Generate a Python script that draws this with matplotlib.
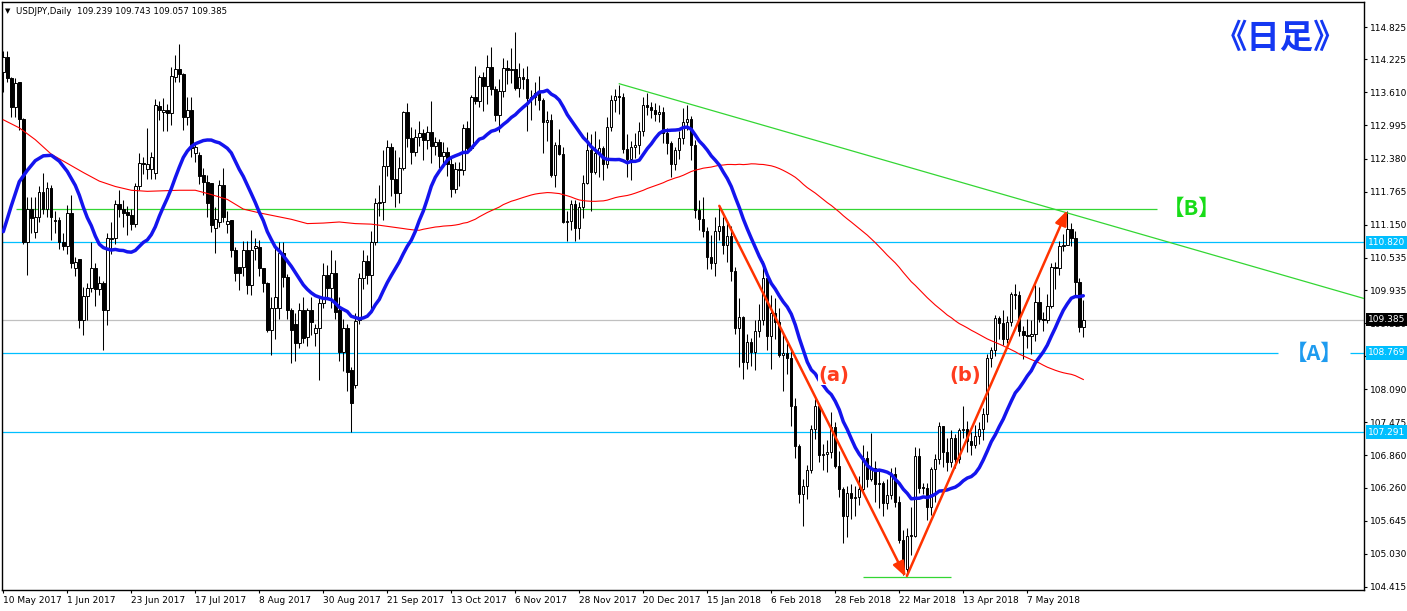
import numpy as np
import pandas as pd
import matplotlib
matplotlib.use("Agg")
import matplotlib.pyplot as plt
from matplotlib.transforms import blended_transform_factory

# ---------------- data ----------------
OPEN = [113.99,114.27,113.87,113.33,113.80,113.11,110.83,111.45,111.02,111.30,
        111.76,111.45,111.83,111.24,111.24,110.83,110.76,111.36,110.34,110.52,
        109.38,109.82,109.97,110.34,109.95,110.06,109.56,110.88,110.90,111.54,
        111.45,111.39,111.33,111.17,111.86,112.30,112.18,112.18,112.11,113.36,
        113.25,113.28,113.22,113.90,114.04,113.95,113.16,113.28,112.48,112.45,
        112.07,111.95,111.92,111.08,111.20,111.89,111.16,111.24,110.68,110.37,
        110.36,110.68,110.03,110.71,110.74,110.34,110.06,109.19,109.60,109.61,
        110.62,110.18,109.56,109.31,108.95,109.56,109.07,109.56,109.13,109.22,
        109.69,110.21,109.97,110.25,109.56,108.78,109.22,108.45,108.17,109.37,
        110.15,110.47,110.22,110.83,111.55,111.58,112.25,112.59,111.99,111.73,
        112.21,113.25,112.76,112.51,112.78,112.86,112.72,112.87,112.61,112.68,
        112.42,112.51,112.28,111.82,112.18,112.16,112.95,112.57,113.52,113.45,
        113.89,113.72,114.08,113.67,113.19,113.64,114.06,114.02,114.05,113.70,
        113.90,113.85,113.51,113.52,113.60,113.46,113.05,113.10,112.07,112.64,
        112.46,111.20,111.21,111.53,111.08,111.48,111.93,112.53,112.13,112.48,
        112.58,112.27,112.97,113.46,113.55,113.52,112.56,112.37,112.59,112.64,
        112.90,113.38,113.34,113.28,113.20,113.24,112.86,112.67,112.27,112.53,
        112.76,113.05,113.11,112.63,111.43,111.26,111.03,110.55,110.44,111.03,
        111.12,110.77,110.94,110.28,109.22,109.43,108.60,108.96,108.79,109.17,
        109.38,110.16,109.08,109.50,109.35,108.73,108.77,108.68,107.78,107.04,
        106.14,106.30,106.58,107.35,107.77,106.87,106.88,106.92,107.38,106.67,
        106.23,105.74,106.17,106.06,106.08,106.23,106.82,106.42,106.63,106.32,
        106.34,105.97,106.12,106.51,106.00,105.29,104.74,105.37,105.36,106.85,
        106.26,106.25,105.91,106.61,106.79,107.40,106.93,106.74,107.18,106.79,
        107.33,107.36,107.13,107.06,107.23,107.36,107.63,108.68,108.82,109.42,
        109.33,109.03,109.34,109.86,109.85,109.18,109.10,109.08,109.12,109.71,
        109.40,109.37,109.64,110.36,110.34,110.76,110.77,111.07,110.91,110.08,
        109.239]
HIGH = [114.37,114.38,113.90,113.87,113.80,113.13,111.67,111.67,111.67,111.86,
        112.12,111.95,111.89,111.40,111.30,110.99,111.52,111.70,110.55,110.52,
        110.00,110.06,110.82,110.43,110.20,110.10,110.99,111.20,111.61,111.79,
        111.60,111.50,111.45,111.93,112.48,112.41,112.94,112.50,113.48,113.45,
        113.50,113.40,114.09,114.30,114.51,113.97,113.53,113.53,112.66,112.50,
        112.20,112.07,111.92,111.48,111.98,112.20,111.40,111.24,110.74,110.37,
        110.84,110.84,111.05,110.90,110.87,110.35,110.08,109.80,110.74,110.82,
        110.82,110.24,109.60,109.50,109.70,109.80,109.60,109.80,109.30,109.80,
        110.43,110.40,110.68,110.50,109.80,109.40,109.30,108.50,109.50,110.26,
        110.68,110.58,111.03,111.65,111.88,112.53,112.72,112.66,112.53,112.40,
        113.26,113.41,112.96,112.93,113.07,112.93,112.99,113.44,112.78,112.75,
        112.69,112.60,112.39,112.31,112.32,113.02,113.08,113.57,114.10,113.93,
        113.98,114.30,114.45,113.72,113.85,114.25,114.22,114.44,114.73,114.15,
        114.06,114.10,113.66,113.80,113.92,113.50,113.27,113.20,112.68,112.92,
        112.60,111.40,111.60,111.60,111.58,112.07,112.88,112.84,112.90,112.75,
        112.62,113.16,113.56,113.67,113.75,113.60,112.84,112.70,112.86,113.06,
        113.52,113.60,113.43,113.41,113.38,113.34,112.94,112.70,112.60,112.89,
        113.31,113.38,113.17,112.72,111.61,111.66,111.10,110.95,111.30,111.48,
        111.30,111.19,111.12,110.37,109.78,109.45,109.11,109.04,109.37,109.68,
        110.48,110.27,109.84,109.78,109.60,109.15,108.95,108.80,107.93,107.07,
        106.43,106.68,107.43,107.90,107.82,107.08,107.15,107.67,107.48,106.94,
        106.27,106.30,106.33,106.30,106.48,107.05,106.95,107.28,106.76,106.60,
        106.39,106.43,106.63,106.65,106.10,105.48,105.52,105.90,107.01,107.00,
        106.35,106.34,106.65,106.89,107.49,107.40,107.19,107.34,107.26,107.37,
        107.78,107.50,107.30,107.43,107.49,107.75,108.75,108.88,109.47,109.46,
        109.57,109.45,109.89,110.04,109.92,109.26,109.40,109.38,110.02,110.00,
        109.53,109.86,110.44,110.45,110.85,110.98,111.40,111.18,111.04,110.16,
        109.743]
LOW = [113.62,113.81,113.16,113.16,112.91,110.79,110.21,110.99,110.90,111.20,
       111.35,111.30,110.87,111.00,110.70,110.68,110.60,110.34,110.20,109.22,
       109.10,109.38,109.90,109.63,109.85,108.82,109.28,110.60,110.80,111.30,
       111.10,110.96,111.05,111.11,111.80,112.10,112.00,112.00,112.00,113.10,
       112.90,112.90,113.00,113.80,113.80,112.91,113.00,112.40,112.32,111.90,
       111.70,111.30,111.02,110.62,111.10,111.20,111.00,110.54,110.10,109.94,
       110.20,109.87,109.84,110.50,110.20,109.90,109.15,108.72,109.02,109.40,
       110.00,109.40,108.58,108.62,108.86,108.95,108.90,109.10,108.90,108.26,
       109.60,109.80,109.60,109.40,108.61,108.43,108.05,107.30,108.11,109.30,
       109.95,110.04,109.55,110.78,111.31,111.23,112.05,111.68,111.47,111.55,
       112.16,112.59,112.27,112.43,112.61,112.36,112.56,112.30,112.44,112.20,
       112.23,112.05,111.67,111.74,111.86,112.08,112.54,112.53,113.40,113.33,
       113.26,113.40,113.57,113.07,112.87,113.53,113.76,113.78,113.66,113.53,
       113.67,112.90,113.09,113.38,113.28,112.48,112.70,112.03,111.85,112.44,
       111.19,110.84,111.05,110.84,110.89,111.27,111.90,111.40,112.10,112.04,
       111.98,112.20,112.90,113.25,113.20,112.49,112.04,111.98,112.39,112.46,
       112.80,113.19,113.13,113.08,113.06,112.66,112.47,112.04,112.17,112.37,
       112.65,112.91,112.35,111.27,111.06,110.92,110.33,110.33,110.19,110.87,
       110.61,110.45,110.11,109.11,108.50,108.28,108.46,108.53,108.45,109.07,
       109.28,108.82,108.46,109.02,108.69,108.05,108.37,107.40,106.82,105.98,
       105.55,106.05,106.54,107.17,106.73,106.58,106.55,106.82,106.62,106.09,
       105.24,105.35,105.68,105.73,105.94,106.15,106.28,106.39,106.00,105.89,
       105.74,105.87,106.05,105.90,105.24,104.64,104.63,105.01,105.35,106.16,
       106.15,105.66,105.75,105.99,106.71,106.64,106.57,106.65,106.62,106.72,
       107.19,106.93,106.86,107.00,107.08,107.15,107.48,108.50,108.71,109.03,
       108.92,108.95,109.26,109.59,109.08,108.65,108.85,108.74,108.99,109.34,
       109.18,109.32,109.60,109.96,110.22,110.66,110.77,110.75,109.84,109.16,
       109.057]
CLOSE = [114.27,113.87,113.33,113.78,113.11,110.83,111.45,111.27,111.30,111.76,
         111.45,111.83,111.30,111.21,110.83,110.76,111.36,110.43,110.45,109.38,
         109.82,109.97,110.34,109.95,110.06,109.56,110.90,110.90,111.54,111.44,
         111.37,111.33,111.17,111.86,112.30,112.27,112.28,112.40,113.37,113.28,
         113.28,113.22,113.91,114.04,113.95,113.16,113.28,112.57,112.60,112.05,
         111.95,111.55,111.14,111.25,111.89,111.30,111.22,110.68,110.25,110.25,
         110.68,110.03,110.68,110.75,110.34,110.06,109.19,109.60,109.81,110.62,
         110.18,109.56,109.19,108.95,109.56,109.04,109.56,109.35,109.22,109.69,
         110.21,109.97,110.25,109.53,108.78,109.22,108.42,107.83,109.36,110.15,
         110.47,110.22,110.83,111.55,111.58,112.25,112.59,111.99,111.73,112.21,
         113.25,112.76,112.51,112.78,112.86,112.72,112.87,112.61,112.68,112.42,
         112.51,112.28,111.82,112.18,112.16,112.95,112.57,113.52,113.45,113.89,
         113.72,114.08,113.67,113.19,113.64,114.06,114.02,114.05,113.70,113.90,
         113.85,113.51,113.52,113.60,113.46,113.05,113.10,112.07,112.64,112.46,
         111.20,111.21,111.53,111.08,111.48,111.93,112.53,112.13,112.48,112.58,
         112.27,112.97,113.46,113.55,113.52,112.56,112.37,112.59,112.64,112.90,
         113.38,113.34,113.28,113.20,113.24,112.86,112.67,112.27,112.53,112.76,
         113.05,113.11,112.63,111.43,111.26,111.03,110.55,110.44,111.03,111.12,
         110.77,110.94,110.28,109.22,109.43,108.60,108.96,108.79,109.17,109.38,
         110.16,109.08,109.50,109.35,108.73,108.77,108.68,107.78,107.04,106.14,
         106.30,106.58,107.35,107.77,106.87,106.88,106.92,107.38,106.67,106.23,
         105.74,106.17,106.06,106.08,106.23,106.82,106.42,106.63,106.32,106.34,
         105.97,106.12,106.51,106.00,105.29,104.74,105.37,105.36,106.85,106.26,
         106.25,105.91,106.61,106.79,107.40,106.93,106.74,107.18,106.79,107.33,
         107.36,107.13,107.06,107.23,107.36,107.63,108.68,108.82,109.42,109.33,
         109.03,109.34,109.86,109.85,109.18,109.10,109.08,109.12,109.71,109.40,
         109.37,109.64,110.36,110.34,110.76,110.77,111.07,110.91,110.08,109.25,
         109.385]

# moving averages: SMA(20) blue and SMA(100) red of the closes; their first bars
# (which need history before the chart) are read off the picture
BLUE_PERIOD = 20
RED_PERIOD = 100
BLUE_HEAD_BARS = [0, 2, 4, 6, 8, 10, 12, 14, 16, 18]
BLUE_HEAD = [111.02, 111.50, 111.95, 112.16, 112.34, 112.43, 112.44, 112.33, 112.14, 111.88]
RED_HEAD_BARS = list(range(0, 97, 4))
RED_HEAD = [113.10, 112.95, 112.73, 112.46, 112.29, 112.12, 111.96, 111.86, 111.79, 111.77,
            111.78, 111.79, 111.79, 111.71, 111.62, 111.44, 111.37, 111.31, 111.25, 111.17,
            111.18, 111.20, 111.17, 111.16, 111.12]

X_LABELS = ['10 May 2017', '1 Jun 2017', '23 Jun 2017', '17 Jul 2017', '8 Aug 2017',
            '30 Aug 2017', '21 Sep 2017', '13 Oct 2017', '6 Nov 2017', '28 Nov 2017',
            '20 Dec 2017', '15 Jan 2018', '6 Feb 2018', '28 Feb 2018', '22 Mar 2018',
            '13 Apr 2018', '7 May 2018']
Y_TICKS = [114.825, 114.225, 113.610, 112.995, 112.380, 111.765, 111.150, 110.535,
           109.935, 109.320, 108.705, 108.090, 107.475, 106.860, 106.260, 105.645,
           105.030, 104.415]

LEVEL_B = 111.44          # green horizontal
LEVEL_1 = 110.820         # cyan
LEVEL_A = 108.769         # cyan (A)
LEVEL_2 = 107.291         # cyan
LAST_PRICE = 109.385      # grey
LOW_MARK = 104.594        # short green at bottom
TREND_X = [154, 341]
TREND_Y = [113.77, 109.76]
ARROW_A = [(179, 111.50), (225.6, 104.60)]
ARROW_B = [(225.9, 104.62), (266.0, 111.42)]

# ---------------- figure ----------------
W, H = 1407, 611
fig = plt.figure(figsize=(W / 100, H / 100), dpi=100)
fig.patch.set_facecolor('white')
L_PX, R_PX, T_PX, B_PX = 2, 1364, 1.5, 590
ax = fig.add_axes([L_PX / W, (H - B_PX) / H, (R_PX - L_PX) / W, (B_PX - T_PX) / H])
ax.set_xlim((L_PX - 3.3) / 4, (R_PX - 3.3) / 4)
ax.set_ylim(114.825 - (B_PX - 27) / 53.79, 114.825 - (T_PX - 27) / 53.79)
for s in ax.spines.values():
    s.set_color('black')
    s.set_linewidth(1.0)

CYAN = '#00BFFF'
GREEN = '#33D633'

# horizontal levels
ax.axhline(LEVEL_1, color=CYAN, lw=0.9, zorder=1.5)
ax.axhline(LEVEL_2, color=CYAN, lw=0.9, zorder=1.5)
ax.axhline(LAST_PRICE, color='#C0C0C0', lw=0.9, zorder=1.4)
ax.hlines(LEVEL_A, ax.get_xlim()[0], 318.7, color=CYAN, lw=0.9, zorder=1.5)
ax.hlines(LEVEL_A, 336.7, ax.get_xlim()[1], color=CYAN, lw=0.9, zorder=1.5)
ax.hlines(LEVEL_B, 3.2, 288.4, color=GREEN, lw=0.9, zorder=1.5)
ax.hlines(LOW_MARK, 215.0, 236.9, color=GREEN, lw=0.9, zorder=1.5)

# candles
o, h, l, c = (np.array(v) for v in (OPEN, HIGH, LOW, CLOSE))
x = np.arange(len(c))
ax.vlines(x, l, h, color='black', lw=0.75, zorder=2)
up = c >= o
bottom = np.minimum(o, c)
height = np.maximum(np.abs(c - o), 0.015)
ax.bar(x[up], height[up], bottom=bottom[up], width=0.6, facecolor='white',
       edgecolor='black', linewidth=0.7, zorder=2.2)
ax.bar(x[~up], height[~up], bottom=bottom[~up], width=0.6, facecolor='black',
       edgecolor='black', linewidth=0.7, zorder=2.2)

# moving averages
close_s = pd.Series(CLOSE)
blue_calc = close_s.rolling(BLUE_PERIOD).mean()
red_calc = close_s.rolling(RED_PERIOD).mean()
bx = BLUE_HEAD_BARS + list(range(BLUE_PERIOD - 1, len(CLOSE)))
by = BLUE_HEAD + list(blue_calc.iloc[BLUE_PERIOD - 1:])
rx = RED_HEAD_BARS + list(range(RED_PERIOD - 1, len(CLOSE)))
ry = RED_HEAD + list(red_calc.iloc[RED_PERIOD - 1:])
ax.plot(rx, ry, color='#FF0000', lw=0.8, zorder=3)
ax.plot(bx, by, color='#1414EE', lw=2.5, zorder=3.1,
        solid_joinstyle='round', solid_capstyle='round')

# trend line
ax.plot(TREND_X, TREND_Y, color=GREEN, lw=0.9, zorder=3.2)

# arrows
RED = '#FF3300'
for (p0, p1) in (ARROW_A, ARROW_B):
    ax.annotate('', xy=p1, xytext=p0, zorder=4,
                arrowprops=dict(arrowstyle='-|>,head_length=0.9,head_width=0.35',
                                color=RED, lw=1.8, shrinkA=0, shrinkB=0))

# labels on chart
ax.text(207.7, 108.355, '(a)', color='#FF3C1E', fontsize=14, fontweight='bold',
        ha='center', va='center', zorder=5,
        bbox=dict(boxstyle='square,pad=0.05', fc='white', ec='none'))
ax.text(240.4, 108.355, '(b)', color='#FF3C1E', fontsize=14, fontweight='bold',
        ha='center', va='center', zorder=5)
CJK = ['Noto Sans CJK JP', 'DejaVu Sans']
fig.text(1192 / W, 1 - 208 / H, '【B】', color='#18DC18', fontsize=15.5,
         fontweight='bold', family=CJK, ha='center', va='center')
fig.text(1314 / W, 1 - 353 / H, '【A】', color='#1E9BEF', fontsize=15.5,
         fontweight='bold', family=CJK, ha='center', va='center')
fig.text(1280 / W, 1 - 38 / H, '《日足》', color='#1438F2', fontsize=24,
         fontweight='bold', family=CJK, ha='center', va='center')

# header
fig.text(5 / W, 1 - 11 / H, '▼', fontsize=5, color='black', ha='left', va='center')
fig.text(16 / W, 1 - 11 / H, 'USDJPY,Daily  109.239 109.743 109.057 109.385',
         fontsize=6.2, color='black', ha='left', va='center')

# axes ticks
ax.yaxis.tick_right()
ax.set_yticks(Y_TICKS)
ax.set_yticklabels([f'{v:.3f}' for v in Y_TICKS])
ax.tick_params(axis='y', direction='out', length=2.5, width=0.8, pad=2,
               labelsize=6.5, colors='black')
ax.set_xticks(list(range(0, 16 * len(X_LABELS), 16)))
ax.set_xticklabels(X_LABELS)
ax.tick_params(axis='x', direction='out', length=2.5, width=0.8, pad=2,
               labelsize=6.5, colors='black')
for lbl in ax.get_xticklabels():
    lbl.set_ha('left')

# price boxes on the right axis
tr = blended_transform_factory(ax.transAxes, ax.transData)
for val, fc in ((LEVEL_1, CYAN), (LEVEL_A, CYAN), (LEVEL_2, CYAN), (LAST_PRICE, 'black')):
    ax.text(1.0 + 4 / (R_PX - L_PX), val, f'{val:.3f}', transform=tr, fontsize=6.5,
            color='white', ha='left', va='center', zorder=10, clip_on=False,
            bbox=dict(boxstyle='square,pad=0.25', fc=fc, ec='none'))

fig.savefig('out.png', dpi=100, facecolor='white')
